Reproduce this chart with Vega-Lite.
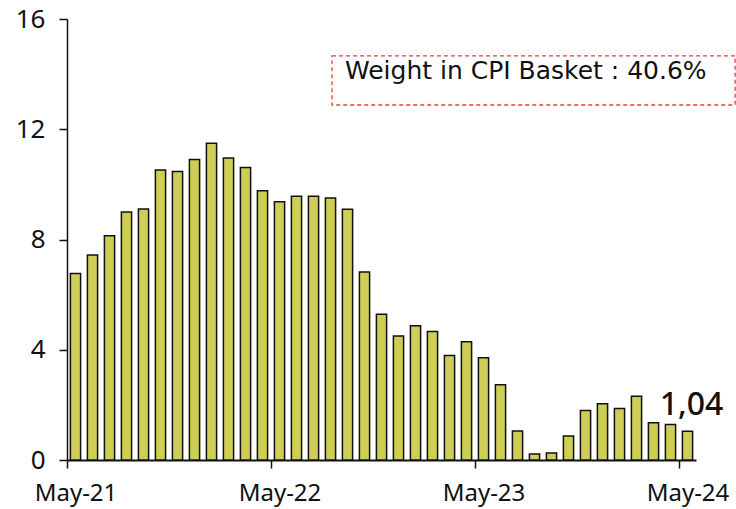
{
  "$schema": "https://vega.github.io/schema/vega-lite/v6.json",
  "width": 629,
  "height": 441,
  "autosize": {"type": "none"},
  "padding": {"left": 67, "top": 19, "right": 40, "bottom": 49},
  "background": "white",
  "config": {
    "view": {"stroke": null},
    "font": "Noto Sans"
  },
  "datasets": {
    "cpi": [
      {"month": "May-21", "value": 6.77},
      {"month": "Jun-21", "value": 7.44},
      {"month": "Jul-21", "value": 8.14},
      {"month": "Aug-21", "value": 9.0},
      {"month": "Sep-21", "value": 9.11},
      {"month": "Oct-21", "value": 10.52},
      {"month": "Nov-21", "value": 10.47},
      {"month": "Dec-21", "value": 10.9},
      {"month": "Jan-22", "value": 11.49},
      {"month": "Feb-22", "value": 10.96},
      {"month": "Mar-22", "value": 10.61},
      {"month": "Apr-22", "value": 9.77},
      {"month": "May-22", "value": 9.37},
      {"month": "Jun-22", "value": 9.57},
      {"month": "Jul-22", "value": 9.57},
      {"month": "Aug-22", "value": 9.51},
      {"month": "Sep-22", "value": 9.1},
      {"month": "Oct-22", "value": 6.82},
      {"month": "Nov-22", "value": 5.29},
      {"month": "Dec-22", "value": 4.5},
      {"month": "Jan-23", "value": 4.87},
      {"month": "Feb-23", "value": 4.66},
      {"month": "Mar-23", "value": 3.79},
      {"month": "Apr-23", "value": 4.29},
      {"month": "May-23", "value": 3.71},
      {"month": "Jun-23", "value": 2.73},
      {"month": "Jul-23", "value": 1.05},
      {"month": "Aug-23", "value": 0.22},
      {"month": "Sep-23", "value": 0.25},
      {"month": "Oct-23", "value": 0.87},
      {"month": "Nov-23", "value": 1.8},
      {"month": "Dec-23", "value": 2.04},
      {"month": "Jan-24", "value": 1.87},
      {"month": "Feb-24", "value": 2.31},
      {"month": "Mar-24", "value": 1.35},
      {"month": "Apr-24", "value": 1.29},
      {"month": "May-24", "value": 1.04, "label": "1,04"}
    ],
    "note": [
      {"x1": 15.59, "x2": 39.3, "y1": 12.88, "y2": 14.66, "tx": 16.35, "ty": 14.12, "text": "Weight in CPI Basket : 40.6%"}
    ]
  },
  "resolve": {"scale": {"x": "independent"}},
  "layer": [
    {
      "data": {"name": "cpi"},
      "layer": [
        {
          "mark": {"type": "bar", "color": "#CECE56", "stroke": "#111111", "strokeWidth": 1.5},
          "encoding": {
            "x": {
              "field": "month", "type": "ordinal", "sort": null,
              "scale": {"paddingInner": 0.4, "paddingOuter": 0.2},
              "axis": {
                "title": null,
                "values": ["May-21", "May-22", "May-23", "May-24"],
                "labelAngle": 0,
                "labelFontSize": 24,
                "labelColor": "#111111",
                "labelPadding": 13,
                "tickOffset": -8.5,
                "labelOffset": 8.5,
                "tickSize": 8,
                "tickColor": "#111111",
                "tickWidth": 1.5,
                "domainColor": "#111111",
                "domainWidth": 2
              }
            },
            "y": {
              "field": "value", "type": "quantitative",
              "scale": {"domain": [0, 16], "nice": false},
              "axis": {
                "title": null,
                "values": [0, 4, 8, 12, 16],
                "grid": false,
                "labelFontSize": 26,
                "labelColor": "#111111",
                "labelPadding": 14,
                "tickSize": 8,
                "tickColor": "#111111",
                "tickWidth": 1.5,
                "domainColor": "#111111",
                "domainWidth": 1.5
              }
            }
          }
        },
        {
          "mark": {"type": "text", "fontSize": 32, "fontWeight": 500, "color": "#111111", "dy": -16, "baseline": "alphabetic", "align": "center", "dx": 4},
          "encoding": {
            "x": {"field": "month", "type": "ordinal", "sort": null},
            "y": {"field": "value", "type": "quantitative"},
            "text": {"field": "label"}
          },
          "transform": [{"filter": "isValid(datum.label)"}]
        }
      ]
    },
    {
      "data": {"name": "note"},
      "layer": [
        {
          "mark": {"type": "rect", "fill": null, "stroke": "#F03C3C", "strokeWidth": 1.3, "strokeDash": [4, 3], "clip": false},
          "encoding": {
            "x": {"field": "x1", "type": "quantitative", "scale": {"domain": [0, 37], "nice": false, "zero": false}, "axis": null},
            "x2": {"field": "x2"},
            "y": {"field": "y1", "type": "quantitative"},
            "y2": {"field": "y2"}
          }
        },
        {
          "mark": {"type": "text", "fontSize": 25, "font": "DejaVu Sans", "color": "#111111", "align": "left", "baseline": "middle"},
          "encoding": {
            "x": {"field": "tx", "type": "quantitative", "scale": {"domain": [0, 37], "nice": false, "zero": false}, "axis": null},
            "y": {"field": "ty", "type": "quantitative"},
            "text": {"field": "text"}
          }
        }
      ]
    }
  ]
}
